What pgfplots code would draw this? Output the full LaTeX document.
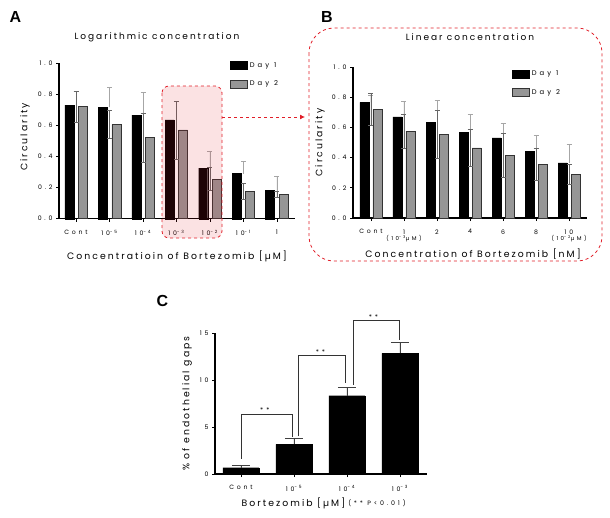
\documentclass[border=0pt]{standalone}
\usepackage{pgfplots}
\pgfplotsset{compat=1.18}
\usepackage{pgfplotstable}
\usepackage{fontspec}
\setmainfont{Poppins}[LetterSpace=22]
\newfontfamily\tickfont{Poppins}[LetterSpace=45]
\newfontfamily\lettfont{Liberation Sans}
\usetikzlibrary{arrows.meta}
\definecolor{dred}{RGB}{225,30,40}
\definecolor{bgray}{RGB}{150,150,150}

\pgfplotstableread{
cat d1 e1 d2 e2
0 0.73 0.09 0.72 0.10
1 0.715 0.13 0.605 0.09
2 0.665 0.145 0.52 0.16
3 0.635 0.12 0.57 0.185
4 0.325 0.11 0.255 0.075
5 0.29 0.08 0.175 0.05
6 0.18 0.095 0.155 0.02
}\tabA
\pgfplotstableread{
cat d1 e1 d2 e2
0 0.765 0.045 0.72 0.105
1 0.67 0.10 0.575 0.11
2 0.635 0.145 0.555 0.16
3 0.565 0.125 0.465 0.125
4 0.53 0.095 0.415 0.145
5 0.44 0.105 0.355 0.105
6 0.365 0.125 0.29 0.065
}\tabB
\pgfplotstableread{
cat v e
0 0.67 0.29
1 3.16 0.60
2 8.33 0.89
3 12.84 1.13
}\tabC

\pgfplotsset{
  panel/.style={
    scale only axis, clip=false,
    axis x line*=bottom, axis y line*=left,
    axis line style={line width=1.1pt},
    every tick/.style={black, line width=0.8pt},
    tick align=outside, major tick length=3pt,
    xtick=data,
    tick label style={font=\tickfont\fontsize{6.2}{7}\selectfont},
    label style={font=\fontsize{9.3}{10}\selectfont},
    title style={font=\fontsize{9}{10}\selectfont},
  },
  day1/.style={ybar, bar width=9pt, fill=black, draw=black,
    error bars/.cd, y dir=plus, y explicit,
    error bar style={gray!70, line width=0.5pt},
    error mark options={rotate=90, gray!70, mark size=2.5pt, line width=0.5pt}},
  day2/.style={ybar, bar width=9pt, fill=bgray, draw=black!80, line width=0.5pt,
    error bars/.cd, y dir=both, y explicit,
    error bar style={black!60, line width=0.5pt},
    error mark options={rotate=90, black!60, mark size=2.5pt, line width=0.5pt}},
  boxlegend/.style={
    legend image code/.code={\draw[##1] (0pt,-4pt) rectangle (17pt,4pt);},
    legend style={draw=none, fill=none, font=\tickfont\fontsize{6.8}{7}\selectfont,
      row sep=8pt, inner sep=0pt, cells={anchor=west}},
  },
}

\begin{document}
\begin{tikzpicture}[x=1pt,y=1pt]
\useasboundingbox (0,0) rectangle (610,-517);

% ---------------- Panel A ----------------
\begin{axis}[panel, boxlegend,
  at={(59pt,-218.7pt)}, anchor=south west,
  width=236pt, height=155.7pt,
  xmin=-0.51, xmax=6.54, ymin=0, ymax=1,
  ytick={0,0.2,0.4,0.6,0.8,1.0},
  yticklabels={0.0,0.2,0.4,0.6,0.8,1.0},
  xticklabels={Cont,10\textsuperscript{-5},10\textsuperscript{-4},10\textsuperscript{-3},10\textsuperscript{-2},10\textsuperscript{-1},1},
  xticklabel style={yshift=-5pt},
  title={Logarithmic concentration},
  title style={at={(axis description cs:0.415,1.128)}, anchor=center},
  xlabel={Concentratioin of Bortezomib [µM]},
  xlabel style={at={(axis description cs:0.5,-0.24)}, anchor=center},
  ylabel={Circularity},
  ylabel style={at={(axis description cs:-0.144,0.525)}, anchor=center},
  legend style={at={(axis description cs:0.725,1.02)}, anchor=north west},
]
\addplot[bar shift=-6.75pt, day1] table[x=cat, y=d1, y error=e1] {\tabA};
\addlegendentry{Day 1}
\addplot[bar shift=6.75pt, day2] table[x=cat, y=d2, y error=e2] {\tabA};
\addlegendentry{Day 2}
\end{axis}

% pink highlight and arrow
\fill[dred, opacity=0.13, rounded corners=7pt] (162,-86) rectangle (222,-238);
\draw[dred, dashed, line width=0.8pt, rounded corners=7pt] (162,-86) rectangle (222,-238);
\draw[dred, dashed, line width=0.8pt, -{Latex[length=5pt,width=5pt]}] (222,-117) -- (305,-117);

% ---------------- Panel B ----------------
\draw[dred, dashed, line width=0.8pt, rounded corners=25pt] (309,-28) rectangle (602,-261);
\begin{axis}[panel, boxlegend,
  at={(353pt,-218pt)}, anchor=south west,
  width=234pt, height=151pt,
  xmin=-0.545, xmax=6.545, ymin=0, ymax=1,
  ytick={0,0.2,0.4,0.6,0.8,1.0},
  yticklabels={0.0,0.2,0.4,0.6,0.8,1.0},
  xticklabels={Cont,{1\\[-1pt]{\fontsize{5.5}{6}\selectfont(10\textsuperscript{-3}µM)}},2,4,6,8,{10\\[-1pt]{\fontsize{5.5}{6}\selectfont(10\textsuperscript{-2}µM)}}},
  xticklabel style={yshift=-5pt, align=center},
  title={Linear concentration},
  title style={at={(axis description cs:0.5,1.159)}, anchor=center},
  xlabel={Concentration of Bortezomib [nM]},
  xlabel style={at={(axis description cs:0.513,-0.238)}, anchor=center},
  ylabel={Circularity},
  ylabel style={at={(axis description cs:-0.141,0.5)}, anchor=center},
  legend style={at={(axis description cs:0.68,0.99)}, anchor=north west},
]
\addplot[bar shift=-6.5pt, day1] table[x=cat, y=d1, y error=e1] {\tabB};
\addlegendentry{Day 1}
\addplot[bar shift=6.5pt, day2] table[x=cat, y=d2, y error=e2] {\tabB};
\addlegendentry{Day 2}
\end{axis}

% ---------------- Panel C ----------------
\begin{axis}[panel,
  at={(215pt,-474pt)}, anchor=south west,
  width=212pt, height=141pt,
  xmin=-0.49, xmax=3.51, ymin=0, ymax=15,
  ytick={0,5,10,15},
  yticklabels={0,5,10,15},
  xticklabels={Cont,10\textsuperscript{-5},10\textsuperscript{-4},10\textsuperscript{-3}},
  xticklabel style={yshift=-5pt},
  xlabel={Bortezomib [µM]},
  xlabel style={at={(axis description cs:0.37,-0.21)}, anchor=center},
  ylabel={\% of endothelial gaps},
  ylabel style={at={(axis description cs:-0.132,0.5)}, anchor=center},
]
\addplot[ybar, bar width=36pt, fill=black, draw=black,
  error bars/.cd, y dir=plus, y explicit,
  error bar style={black!75, line width=0.6pt},
  error mark options={rotate=90, black!75, mark size=9pt, line width=0.6pt}]
  table[x=cat, y=v, y error=e] {\tabC};
% significance brackets
\draw[black!80, line width=0.6pt] (axis cs:0,1.6) -- (axis cs:0,6.4) -- (axis cs:0.97,6.4) -- (axis cs:0.97,3.95);
\draw[black!80, line width=0.6pt] (axis cs:1.08,4.0) -- (axis cs:1.08,12.6) -- (axis cs:1.96,12.6) -- (axis cs:1.96,9.7);
\draw[black!80, line width=0.6pt] (axis cs:2.11,9.5) -- (axis cs:2.11,16.3) -- (axis cs:2.99,16.3) -- (axis cs:2.99,14.3);
\node[font=\tickfont\fontsize{6.5}{7}\selectfont, anchor=south, inner sep=1pt] at (axis cs:0.45,6.4) {**};
\node[font=\tickfont\fontsize{6.5}{7}\selectfont, anchor=south, inner sep=1pt] at (axis cs:1.5,12.6) {**};
\node[font=\tickfont\fontsize{6.5}{7}\selectfont, anchor=south, inner sep=1pt] at (axis cs:2.5,16.3) {**};
\node[font=\tickfont\fontsize{6.3}{7}\selectfont, anchor=center] at (axis description cs:0.764,-0.21) {(** P<0.01)};
\end{axis}

% panel letters
\node[font=\lettfont\bfseries\fontsize{16}{16}\selectfont] at (15.5,-16.5) {A};
\node[font=\lettfont\bfseries\fontsize{16}{16}\selectfont] at (327,-16.5) {B};
\node[font=\lettfont\bfseries\fontsize{16}{16}\selectfont] at (162.5,-301) {C};
\end{tikzpicture}
\end{document}
